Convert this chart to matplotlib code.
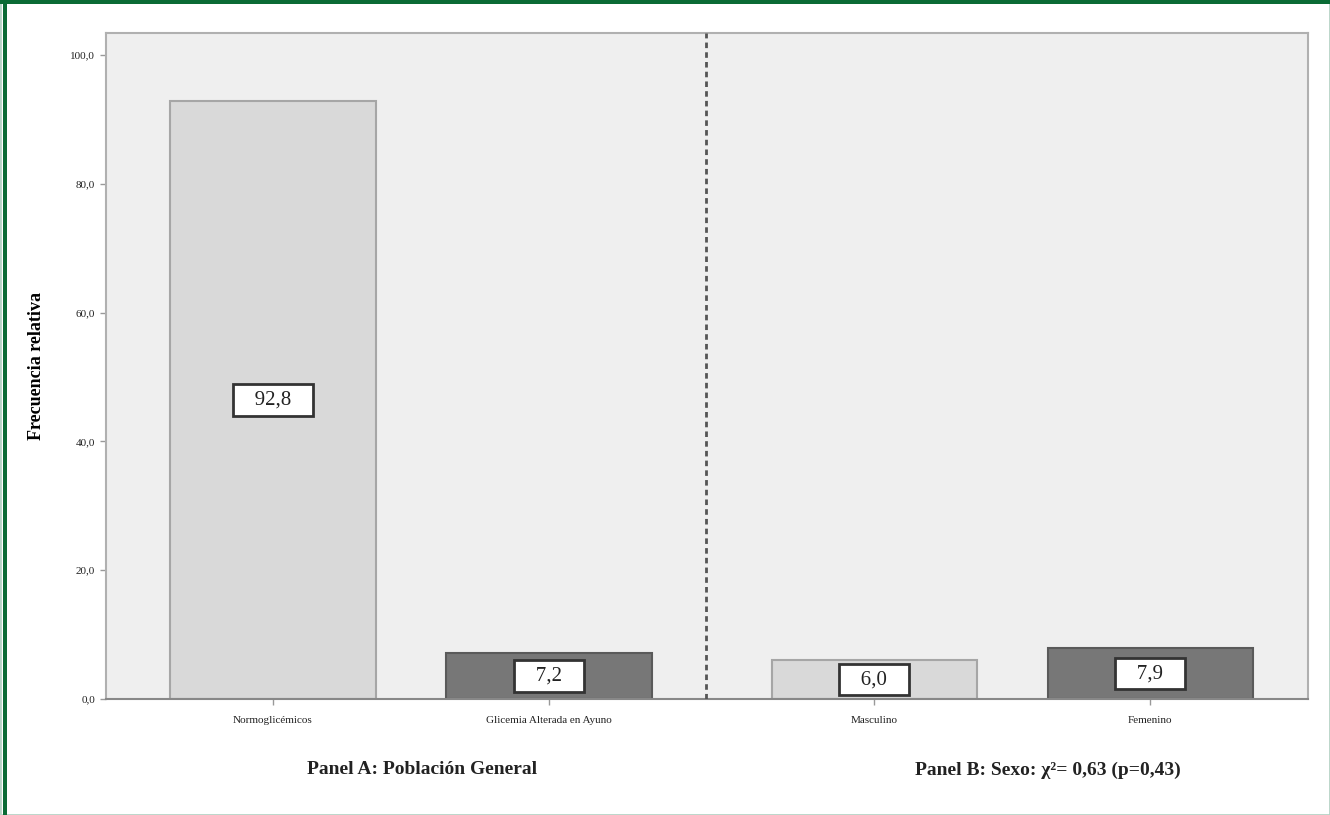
import matplotlib.pyplot as plt
from matplotlib.patches import Rectangle

categories = ["Normoglicémicos", "Glicemia Alterada en Ayuno", "Masculino", "Femenino"]
values = [92.8, 7.2, 6.0, 7.9]
value_labels = ["92,8", "7,2", "6,0", "7,9"]
yticks = [0, 20, 40, 60, 80, 100]
ytick_labels = ["0,0", "20,0", "40,0", "60,0", "80,0", "100,0"]
panel_titles = ["Panel A: Población General", "Panel B: Sexo: χ²= 0,63 (p=0,43)"]

positions = [0, 1, 2.178, 3.178]
face = ["#d9d9d9", "#777777", "#d9d9d9", "#777777"]
edge = ["#a6a6a6", "#5a5a5a", "#a6a6a6", "#5a5a5a"]

plt.rcParams["font.family"] = ["Liberation Serif", "DejaVu Serif"]

fig = plt.figure(figsize=(13.3, 8.15), dpi=100)
ax = fig.add_axes([106 / 1330, 1 - 699 / 815, 1202 / 1330, 666 / 815])
ax.set_facecolor("#efefef")

ax.bar(positions, values, width=0.743, color=face, edgecolor=edge, linewidth=1.5, zorder=2)
for x, v, lab in zip(positions, values, value_labels):
    ax.text(x, v / 2, "   " + lab + "   ", ha="center", va="center", fontsize=15, color="#222222",
            zorder=3, bbox=dict(boxstyle="square,pad=0.3", facecolor="white",
                                edgecolor="#333333", linewidth=2))
ax.axvline(1.569, color="#555555", linestyle=(0, (2, 1.5)), linewidth=2, zorder=3)

ax.set_xlim(-0.605, 3.75)
ax.set_ylim(0, 103.4)
ax.set_yticks(yticks)
ax.set_yticklabels(ytick_labels, fontsize=8, color="#222222")
ax.set_xticks(positions)
ax.set_xticklabels(categories, fontsize=8, color="#222222")
ax.tick_params(axis="both", direction="out", length=4, color="#999999", width=1)
ax.tick_params(axis="x", pad=8)
ax.tick_params(axis="y", pad=4)
for s in ax.spines.values():
    s.set_color("#b0b0b0")
    s.set_linewidth(1.5)
ax.spines["bottom"].set_color("#888888")

ax.set_ylabel("Frecuencia relativa", fontsize=13, fontweight="bold", labelpad=18)

fig.text(422 / 1330, 1 - 770 / 815, panel_titles[0], ha="center", va="center",
         fontsize=14, fontweight="bold", color="#222222")
fig.text(1048 / 1330, 1 - 770 / 815, panel_titles[1], ha="center", va="center",
         fontsize=14, fontweight="bold", color="#222222")

# frame around the figure
fig.patches.append(Rectangle((0, 0), 1, 1, transform=fig.transFigure, fill=False,
                             edgecolor="#b5d3c5", linewidth=2))
fig.patches.append(Rectangle((3 / 1330, 0), 4 / 1330, 1, transform=fig.transFigure,
                             facecolor="#0a6b35", edgecolor="none"))
fig.patches.append(Rectangle((0, 1 - 4 / 815), 1, 4 / 815, transform=fig.transFigure,
                             facecolor="#0a6b35", edgecolor="none"))

fig.savefig("out.png", dpi=100)
